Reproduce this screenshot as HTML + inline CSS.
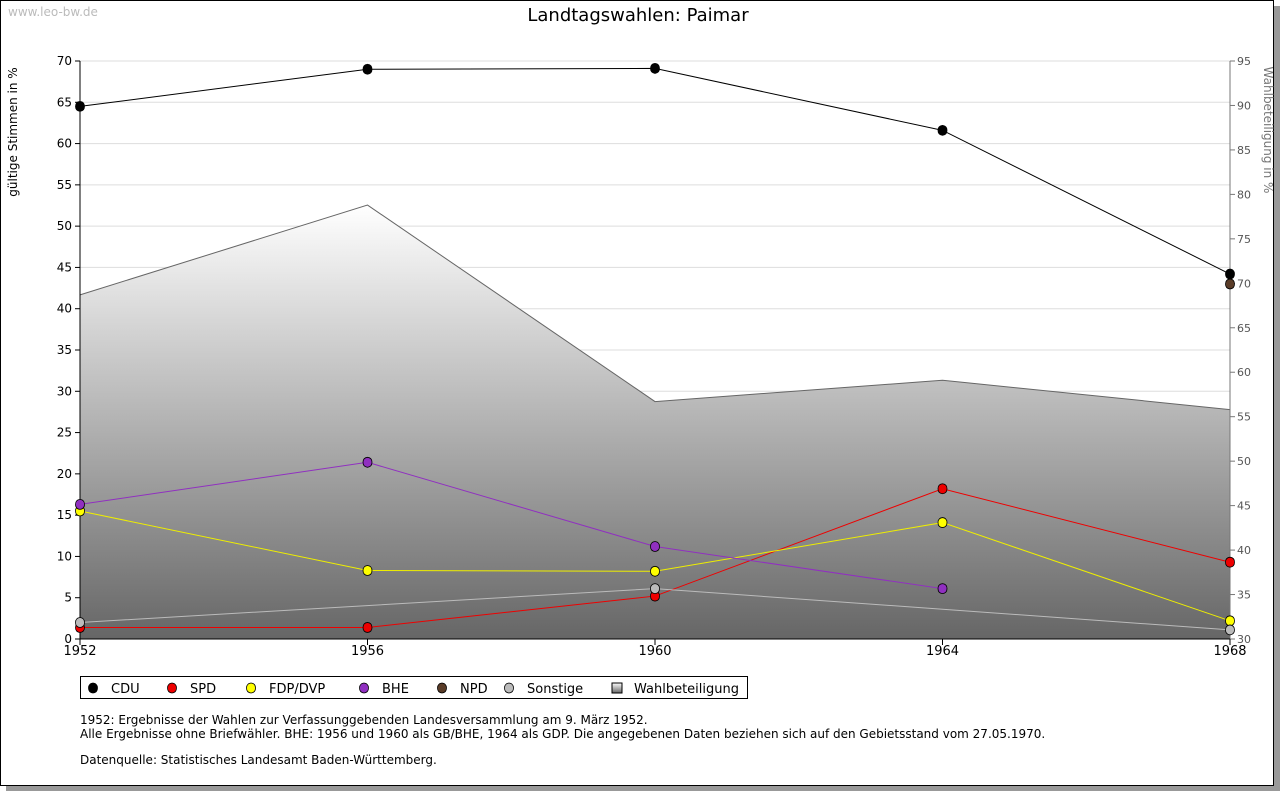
<!DOCTYPE html>
<html><head><meta charset="utf-8"><style>
body{margin:0;background:#fff;font-family:"DejaVu Sans","Liberation Sans",sans-serif;}
#frame{position:absolute;left:0;top:0;width:1272px;height:784px;border:1px solid #000;box-shadow:6px 6px 0 #999;background:#fff}
</style></head><body>
<div id="frame"></div>
<svg id="chart" width="1280" height="791" style="position:absolute;left:0;top:0" font-family="DejaVu Sans, Liberation Sans, sans-serif">
<defs><linearGradient id="g" x1="0" y1="0" x2="0" y2="1"><stop offset="0" stop-color="#ffffff"/><stop offset="1" stop-color="#666666"/></linearGradient></defs>
<text x="8" y="16" font-size="12" fill="#bbb">www.leo-bw.de</text>
<text x="638" y="21" font-size="18" text-anchor="middle">Landtagswahlen: Paimar</text>
<text transform="translate(17,132) rotate(-90)" font-size="12" text-anchor="middle">gültige Stimmen in %</text>
<text transform="translate(1264,130) rotate(90)" font-size="12" fill="#777" text-anchor="middle">Wahlbeteiligung in %</text>
<g id="grid"></g><g id="area"></g><g id="axes"></g><g id="series"></g><g id="legend"></g>
<text x="80" y="724" font-size="12">1952: Ergebnisse der Wahlen zur Verfassunggebenden Landesversammlung am 9. März 1952.</text>
<text x="80" y="738" font-size="12">Alle Ergebnisse ohne Briefwähler. BHE: 1956 und 1960 als GB/BHE, 1964 als GDP. Die angegebenen Daten beziehen sich auf den Gebietsstand vom 27.05.1970.</text>
<text x="80" y="764" font-size="12">Datenquelle: Statistisches Landesamt Baden-Württemberg.</text>
</svg>
<script>
const years=[1952,1956,1960,1964,1968];
const cdu=[64.5,69.0,69.1,61.6,44.2];
const spd=[1.4,1.4,5.2,18.2,9.3];
const fdp=[15.5,8.3,8.2,14.1,2.2];
const bhe=[16.3,21.4,11.2,6.1,null];
const npd=[null,null,null,null,43.0];
const sonst=[2.0,null,6.1,null,1.1];
const turnout=[68.7,78.8,56.7,59.1,55.8];
const leftTicks=[0,5,10,15,20,25,30,35,40,45,50,55,60,65,70];
const rightTicks=[30,35,40,45,50,55,60,65,70,75,80,85,90,95];
const NS="http://www.w3.org/2000/svg";
const X=y=>80+(y-1952)/16*1150;
const Y=v=>639-v/70*578;
const Y2=v=>639-(v-30)/65*578;
function mk(t,a,p){const e=document.createElementNS(NS,t);for(const k in a)e.setAttribute(k,a[k]);p.appendChild(e);return e;}
const grid=document.getElementById('grid'),axes=document.getElementById('axes'),ser=document.getElementById('series'),area=document.getElementById('area'),leg=document.getElementById('legend');
leftTicks.forEach(t=>{
 if(t>0){const l=mk('line',{x1:80,x2:1230,y1:Y(t),y2:Y(t),stroke:'#ddd'},grid);}
 mk('line',{x1:75,x2:80,y1:Y(t),y2:Y(t),stroke:'#000'},axes);
 const tx=mk('text',{x:72,y:Y(t)+4,'font-size':12,'text-anchor':'end'},axes);tx.textContent=t;
 
});
rightTicks.forEach(t=>{
 mk('line',{x1:1230,x2:1235,y1:Y2(t),y2:Y2(t),stroke:'#777'},axes);
 const tx=mk('text',{x:1237,y:Y2(t)+4,'font-size':11,fill:'#555'},axes);tx.textContent=t;
 
});
let d='M80,639 '+turnout.map((v,i)=>'L'+X(years[i])+','+Y2(v)).join(' ')+' L1230,639 Z';
const ar=mk('path',{d:d,fill:'url(#g)'},area);
const al=mk('polyline',{points:turnout.map((v,i)=>X(years[i])+','+Y2(v)).join(' '),fill:'none',stroke:'#666'},area);

mk('line',{x1:80,x2:80,y1:61,y2:639,stroke:'#000'},axes);
mk('line',{x1:1230,x2:1230,y1:61,y2:639,stroke:'#777'},axes);
mk('line',{x1:80,x2:1230,y1:639,y2:639,stroke:'#000'},axes);
years.forEach(y=>{mk('line',{x1:X(y),x2:X(y),y1:639,y2:645,stroke:'#000'},axes);
 const tx=mk('text',{x:X(y),y:655,'font-size':13,'text-anchor':'middle'},axes);tx.textContent=y;
 });
const S=[['CDU',cdu,'#000','#000'],['SPD',spd,'#e00','#e00'],['FDP/DVP',fdp,'#ee0','#ff0'],['BHE',bhe,'#9030c0','#9030c0'],['NPD',npd,'#5a3c28','#5a3c28'],['Sonstige',sonst,'#bbb','#bbb']];
function dia(x,y,f,p){return mk('path',{d:`M${x},${y-5}Q${x+4.5},${y-4.5} ${x+4.5},${y}Q${x+4.5},${y+4.5} ${x},${y+5}Q${x-4.5},${y+4.5} ${x-4.5},${y}Q${x-4.5},${y-4.5} ${x},${y-5}Z`,fill:f,stroke:'#000','stroke-width':0.8},p);}
S.forEach(([n,vals,lc,fc])=>{
 const pts=vals.map((v,i)=>v==null?null:[X(years[i]),Y(v)]).filter(p=>p);
 const g=mk('g',{},ser);
 if(pts.length>1)mk('polyline',{points:pts.map(p=>p.join(',')).join(' '),fill:'none',stroke:lc,'stroke-width':1},g);
 pts.forEach(p=>{const m=dia(p[0],p[1],fc,g);});
});
const lb=mk('rect',{x:80.5,y:676.5,width:667,height:22,fill:'#fff',stroke:'#000'},leg);
const lx=[93,172,251,364,442,509,617];
S.forEach(([n,v,lc,fc],i)=>{const g=mk('g',{},leg);
 dia(lx[i],688,fc,g);const t=mk('text',{x:lx[i]+18,y:693,'font-size':13},g);t.textContent=n;});
const g=mk('g',{},leg);
mk('rect',{x:612,y:683,width:10,height:10,fill:'url(#g)',stroke:'#000'},g);
const t=mk('text',{x:634,y:693,'font-size':13},g);t.textContent='Wahlbeteiligung';
</script>
</body></html>
